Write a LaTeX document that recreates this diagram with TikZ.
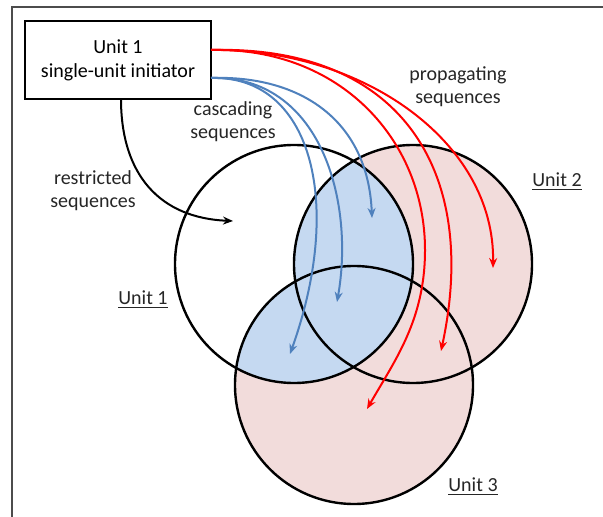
\documentclass[tikz,border=0pt]{standalone}
\usepackage{fontspec}
\setmainfont{Carlito}
\usepackage{tikz}
\usetikzlibrary{arrows.meta,positioning}

\definecolor{unitpink}{RGB}{242,220,219}
\definecolor{unitblue}{RGB}{197,217,241}
\definecolor{cascblue}{RGB}{79,129,189}

\tikzset{
  unitcircle/.style={draw=black,line width=1.2pt},
  initbox/.style={draw=black,line width=1.2pt,fill=white,align=center,
    minimum width=93pt,minimum height=39pt,inner sep=0pt,
    font=\fontsize{10}{12}\selectfont},
  seqlabel/.style={align=center,font=\fontsize{10}{11.5}\selectfont,text=black!85},
  unitlabel/.style={font=\fontsize{10}{11.5}\selectfont,text=black!85},
  restr/.style={draw=black,line width=1pt,-{Stealth[length=5pt,width=4pt]}},
  casc/.style={draw=cascblue,line width=1pt,-{Stealth[length=5pt,width=4pt]}},
  prop/.style={draw=red,line width=1pt,-{Stealth[length=5pt,width=4pt]}},
}

\begin{document}
\begin{tikzpicture}[x=0.5pt,y=-0.5pt]
      \useasboundingbox (0,0) rectangle (603,517);
      \draw[line width=1pt,black!70] (12,517) -- (12,7) -- (603,7);
      \begin{scope}
        \def\unitrad{59.5pt}
        \coordinate (c1) at (294,264);
        \coordinate (c2) at (413,264);
        \coordinate (c3) at (354,385);
        \fill[unitpink] (c2) circle[radius=\unitrad] (c3) circle[radius=\unitrad];
        \begin{scope}
          \clip (c1) circle[radius=\unitrad];
          \fill[unitblue] (c2) circle[radius=\unitrad] (c3) circle[radius=\unitrad];
        \end{scope}
        \draw[unitcircle] (c1) circle[radius=\unitrad];
        \draw[unitcircle] (c2) circle[radius=\unitrad];
        \draw[unitcircle] (c3) circle[radius=\unitrad];
      \end{scope}
      \begin{scope}
        \node[initbox] (init) at (118,60) {Unit 1\\single-unit initiator};
        \coordinate (restrstart) at (121,99);
        \coordinate (cascstart) at (211,78);
        \coordinate (propstart) at (211,50);
        \coordinate (restrend) at (233,221);
        \coordinate (casc1) at (372,218);
        \coordinate (casc2) at (337,302);
        \coordinate (casc3) at (290,354);
        \coordinate (prop1) at (493,268);
        \coordinate (prop2) at (441,351);
        \coordinate (prop3) at (367,409);
        %\node at (300,30) {+};
        \draw[restr] (restrstart) .. controls (121,175) and (160,218) .. (restrend);
        \draw[casc] (cascstart) .. controls (300,75) and (368,120) .. (casc1);
        \draw[casc] (cascstart) .. controls (320,75) and (355,200) .. (casc2);
        \draw[casc] (cascstart) .. controls (310,75) and (345,200) .. (casc3);
        \draw[prop] (propstart) .. controls (360,48) and (495,140) .. (prop1);
        \draw[prop] (propstart) .. controls (400,45) and (480,170) .. (prop2);
        \draw[prop] (propstart) .. controls (340,47) and (425,140) .. (425,250)
          .. controls (425,320) and (395,360) .. (prop3);
        \node[seqlabel] (casclabel) at (233,122) {cascading\\sequences};
        \node[seqlabel] (restrlabel) at (93,191) {restricted\\sequences};
        \node[seqlabel] (proplabel) at (458,87) {propagating\\sequences};
        \node[unitlabel] (unitonelabel) at (143,300) {\underline{Unit 1}};
        \node[unitlabel] (unittwolabel) at (557,182) {\underline{Unit 2}};
        \node[unitlabel] (unitthreelabel) at (473,487) {\underline{Unit 3}};
      \end{scope}
    \end{tikzpicture}
\end{document}
